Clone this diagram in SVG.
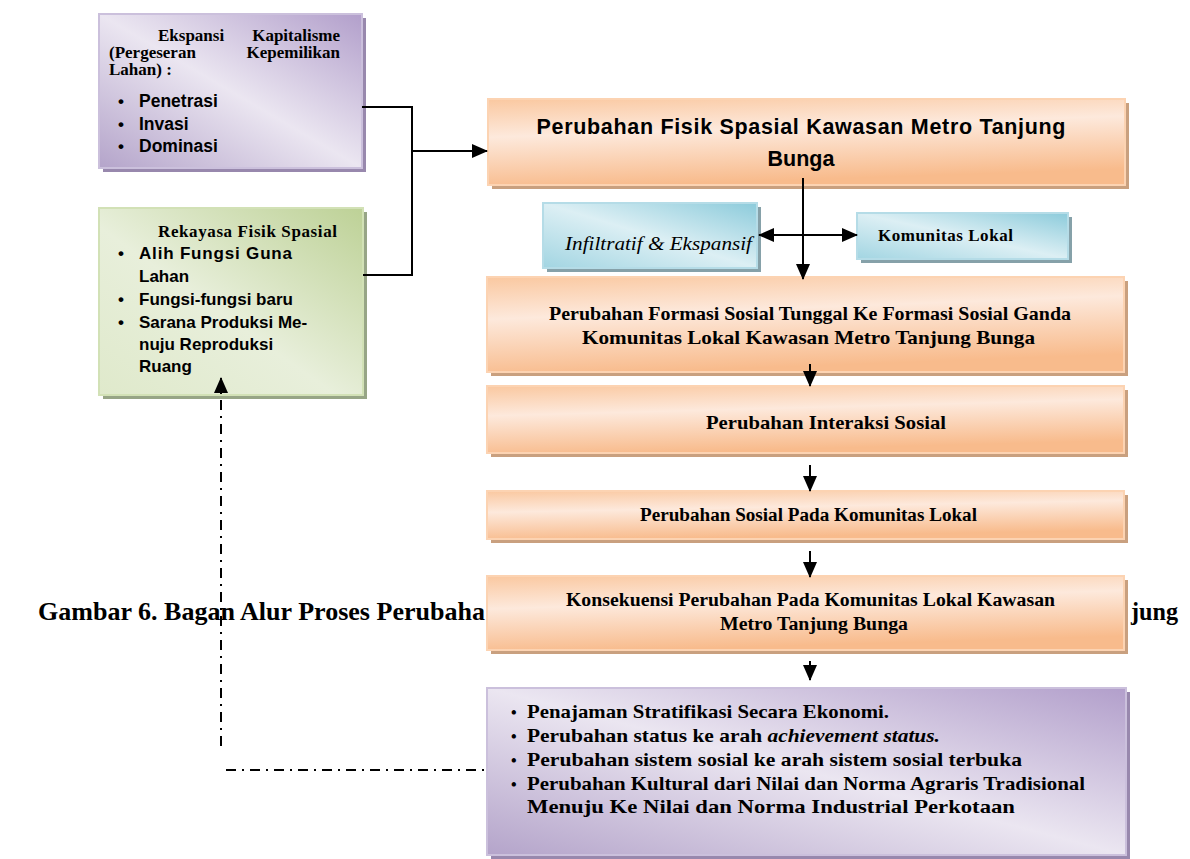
<svg xmlns="http://www.w3.org/2000/svg" width="1190" height="859" viewBox="0 0 1190 859">
<defs>
<linearGradient id="gOr" x1="0" y1="0" x2="0.25" y2="1">
<stop offset="0" stop-color="#fac8a0"/><stop offset="0.42" stop-color="#fde9dc"/><stop offset="1" stop-color="#f8bb8c"/>
</linearGradient>
<linearGradient id="gPu" x1="1" y1="0" x2="0" y2="1">
<stop offset="0" stop-color="#b29fcb"/><stop offset="0.5" stop-color="#ebe6f1"/><stop offset="1" stop-color="#b4a4ca"/>
</linearGradient>
<linearGradient id="gGr" x1="1" y1="0" x2="0" y2="1">
<stop offset="0" stop-color="#bdd196"/><stop offset="0.55" stop-color="#e8efdb"/><stop offset="1" stop-color="#dfe9cb"/>
</linearGradient>
<linearGradient id="gBl" x1="1" y1="0" x2="0" y2="1">
<stop offset="0" stop-color="#8ccbdb"/><stop offset="0.5" stop-color="#dceff4"/><stop offset="1" stop-color="#a2d5e2"/>
</linearGradient>
<marker id="ah" markerUnits="userSpaceOnUse" markerWidth="16" markerHeight="14" refX="15" refY="7" orient="auto-start-reverse" viewBox="0 0 16 14">
<path d="M0,0 L16,7 L0,14 Z" fill="#000"/>
</marker>
<style>
.or{fill:url(#gOr);stroke:#fcd3b2;stroke-width:2}
.orS{fill:#c9a07f}
.pu{fill:url(#gPu);stroke:#cbc0dc;stroke-width:2}
.puS{fill:#9888ad}
.gr{fill:url(#gGr);stroke:#d2e1b6;stroke-width:2}
.grS{fill:#97a586}
.bl{fill:url(#gBl);stroke:#b5dce7;stroke-width:2}
.blS{fill:#86a1a9}
.ss{font-family:"Liberation Serif","Times New Roman",serif;font-weight:bold;fill:#000}
.sa{font-family:"Liberation Sans",Arial,sans-serif;font-weight:bold;fill:#000}
.ln{fill:none;stroke:#000;stroke-width:2}
.dd{fill:none;stroke:#000;stroke-width:2;stroke-dasharray:10 6 2 6}
</style>
</defs>

<g id="caption">
<text class="ss" font-size="25" x="38" y="620" textLength="447" lengthAdjust="spacingAndGlyphs">Gambar 6. Bagan Alur Proses Perubaha</text>
<text class="ss" font-size="25" x="1131" y="620" textLength="47" lengthAdjust="spacingAndGlyphs">jung</text>
</g>

<g id="n-ekspansi">
<rect class="puS" x="103" y="18" width="263" height="154"/>
<rect class="pu" x="99" y="14" width="263" height="154"/>
<text class="ss" font-size="17" x="158" y="41">Ekspansi</text>
<text class="ss" font-size="17" x="340" y="41" text-anchor="end">Kapitalisme</text>
<text class="ss" font-size="17" x="109" y="58">(Pergeseran</text>
<text class="ss" font-size="17" x="340" y="58" text-anchor="end">Kepemilikan</text>
<text class="ss" font-size="17" x="109" y="75">Lahan) :</text>
<text class="sa" font-size="17" x="118" y="107">•</text><text class="sa" font-size="17.5" x="139" y="107">Penetrasi</text>
<text class="sa" font-size="17" x="118" y="130">•</text><text class="sa" font-size="17.5" x="139" y="130">Invasi</text>
<text class="sa" font-size="17" x="118" y="152">•</text><text class="sa" font-size="17.5" x="139" y="152">Dominasi</text>
</g>

<g id="n-rekayasa">
<rect class="grS" x="103" y="212" width="264" height="187"/>
<rect class="gr" x="99" y="208" width="264" height="187"/>
<text class="ss" font-size="17" x="158" y="237" textLength="179" lengthAdjust="spacing">Rekayasa Fisik Spasial</text>
<text class="sa" font-size="17" x="118" y="259">•</text><text class="sa" font-size="17" x="139" y="259" textLength="153" lengthAdjust="spacing">Alih Fungsi Guna</text>
<text class="sa" font-size="17" x="139" y="282">Lahan</text>
<text class="sa" font-size="17" x="118" y="305">•</text><text class="sa" font-size="17" x="139" y="305">Fungsi-fungsi baru</text>
<text class="sa" font-size="17" x="118" y="328">•</text><text class="sa" font-size="17" x="139" y="328">Sarana Produksi Me-</text>
<text class="sa" font-size="17" x="139" y="350">nuju Reproduksi</text>
<text class="sa" font-size="17" x="139" y="372">Ruang</text>
</g>

<g id="n-fisik">
<rect class="orS" x="492" y="103" width="637" height="86"/>
<rect class="or" x="488" y="99" width="637" height="86"/>
<text class="sa" font-size="21.5" x="801" y="134" text-anchor="middle" textLength="529" lengthAdjust="spacing">Perubahan Fisik Spasial Kawasan Metro Tanjung</text>
<text class="sa" font-size="21.5" x="801" y="166" text-anchor="middle">Bunga</text>
</g>

<g id="n-infiltratif">
<rect class="blS" x="547" y="207" width="214" height="65"/>
<rect class="bl" x="543" y="203" width="214" height="65"/>
<text font-family="Liberation Serif, serif" font-style="italic" font-size="19" x="565" y="250" textLength="187" lengthAdjust="spacingAndGlyphs">Infiltratif &amp; Ekspansif</text>
</g>

<g id="n-komunitas">
<rect class="blS" x="861" y="217" width="211" height="46"/>
<rect class="bl" x="857" y="213" width="211" height="46"/>
<text class="ss" font-size="17" x="878" y="241" textLength="135" lengthAdjust="spacing">Komunitas Lokal</text>
</g>

<g id="n-formasi">
<rect class="orS" x="491" y="281" width="637" height="95"/>
<rect class="or" x="487" y="277" width="637" height="95"/>
<text class="ss" font-size="19" x="549" y="320" textLength="522" lengthAdjust="spacingAndGlyphs">Perubahan Formasi Sosial Tunggal Ke Formasi Sosial Ganda</text>
<text class="ss" font-size="19" x="582" y="344" textLength="453" lengthAdjust="spacingAndGlyphs">Komunitas Lokal Kawasan Metro Tanjung Bunga</text>
</g>

<g id="n-interaksi">
<rect class="orS" x="491" y="390" width="637" height="67"/>
<rect class="or" x="487" y="386" width="637" height="67"/>
<text class="ss" font-size="19" x="706" y="429" textLength="240" lengthAdjust="spacingAndGlyphs">Perubahan Interaksi Sosial</text>
</g>

<g id="n-sosial">
<rect class="orS" x="491" y="495" width="637" height="48"/>
<rect class="or" x="487" y="491" width="637" height="48"/>
<text class="ss" font-size="18.5" x="640" y="521" textLength="337" lengthAdjust="spacingAndGlyphs">Perubahan Sosial Pada Komunitas Lokal</text>
</g>

<g id="n-konsekuensi">
<rect class="orS" x="491" y="580" width="637" height="74"/>
<rect class="or" x="487" y="576" width="637" height="74"/>
<text class="ss" font-size="18.5" x="566" y="606" textLength="489" lengthAdjust="spacingAndGlyphs">Konsekuensi Perubahan Pada Komunitas Lokal Kawasan</text>
<text class="ss" font-size="18.5" x="720" y="630" textLength="188" lengthAdjust="spacingAndGlyphs">Metro Tanjung Bunga</text>
</g>

<g id="n-hasil">
<rect class="puS" x="491" y="692" width="639" height="167"/>
<rect class="pu" x="487" y="688" width="639" height="167"/>
<text class="ss" font-size="16" x="511" y="718">•</text><text class="ss" font-size="19" x="527" y="718" textLength="362" lengthAdjust="spacingAndGlyphs">Penajaman Stratifikasi Secara Ekonomi.</text>
<text class="ss" font-size="16" x="511" y="742">•</text><text class="ss" font-size="19" x="527" y="742" textLength="413" lengthAdjust="spacingAndGlyphs">Perubahan status ke arah  <tspan font-style="italic">achievement status.</tspan></text>
<text class="ss" font-size="16" x="511" y="766">•</text><text class="ss" font-size="19" x="527" y="766" textLength="495" lengthAdjust="spacingAndGlyphs">Perubahan sistem  sosial  ke arah sistem sosial terbuka</text>
<text class="ss" font-size="16" x="511" y="790">•</text><text class="ss" font-size="19" x="527" y="790" textLength="558" lengthAdjust="spacingAndGlyphs">Perubahan Kultural dari Nilai dan Norma Agraris Tradisional</text>
<text class="ss" font-size="19" x="527" y="813" textLength="488" lengthAdjust="spacingAndGlyphs">Menuju Ke Nilai dan Norma Industrial Perkotaan</text>
</g>

<g id="connectors">
<polyline class="ln" points="362,107 412,107 412,275 363,275"/>
<line class="ln" x1="412" y1="151" x2="487" y2="151" marker-end="url(#ah)"/>
<line class="ln" x1="803" y1="178" x2="803" y2="279" marker-end="url(#ah)"/>
<line class="ln" x1="759" y1="235" x2="857" y2="235" marker-start="url(#ah)" marker-end="url(#ah)"/>
<line class="ln" x1="810" y1="364" x2="810" y2="386" marker-end="url(#ah)"/>
<line class="ln" x1="810" y1="465" x2="810" y2="491" marker-end="url(#ah)"/>
<line class="ln" x1="810" y1="551" x2="810" y2="577" marker-end="url(#ah)"/>
<line class="ln" x1="810" y1="661" x2="810" y2="680" marker-end="url(#ah)"/>
<line class="ln" x1="221" y1="394" x2="221" y2="378" marker-end="url(#ah)"/>
<line class="dd" x1="221" y1="400" x2="221" y2="752"/>
<line class="dd" x1="226" y1="770" x2="486" y2="770"/>
</g>
</svg>
